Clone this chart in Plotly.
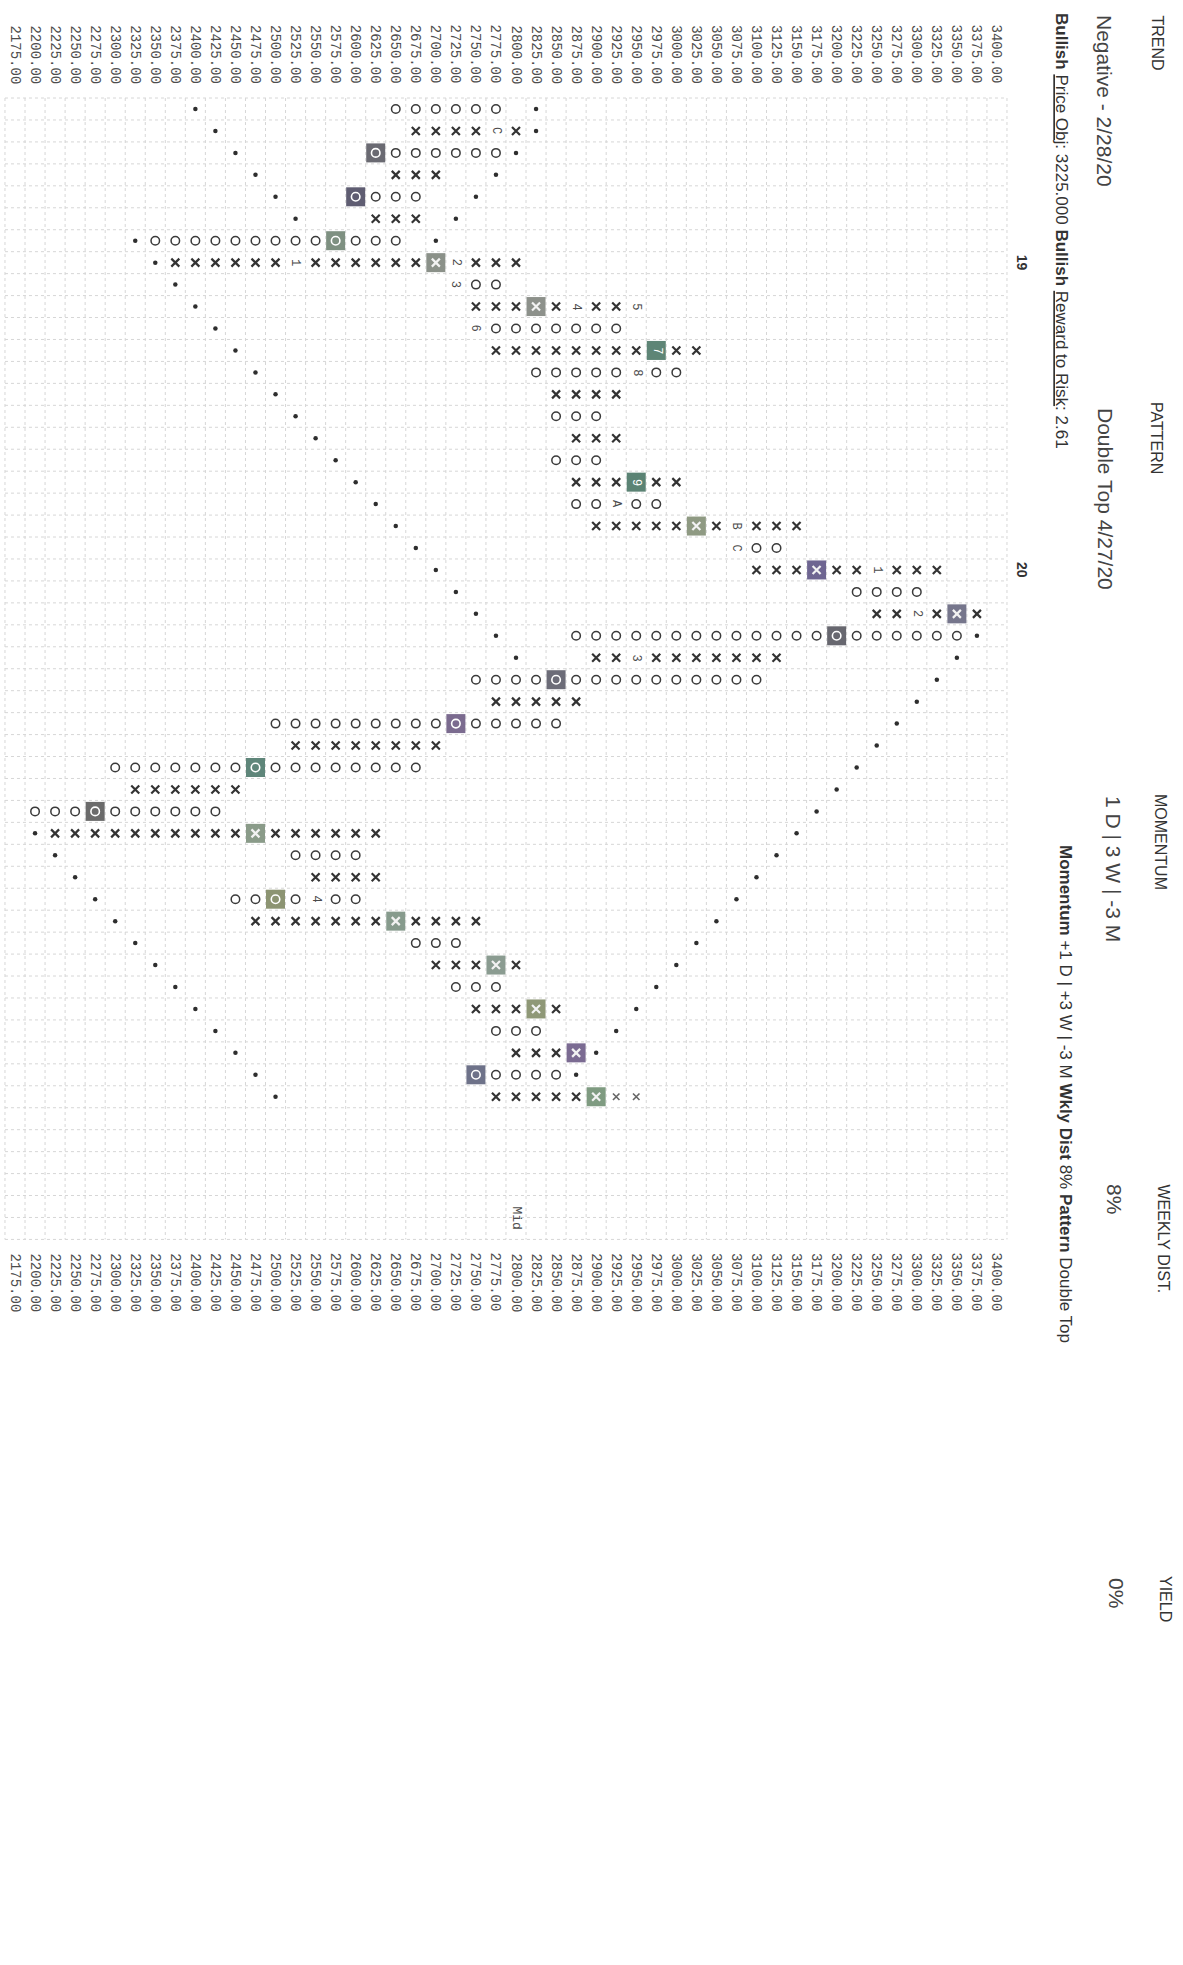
import plotly.graph_objects as go

# ---------------- data ----------------
price_levels = [2175, 2200, 2225, 2250, 2275, 2300, 2325, 2350, 2375, 2400,
                2425, 2450, 2475, 2500, 2525, 2550, 2575, 2600, 2625, 2650,
                2675, 2700, 2725, 2750, 2775, 2800, 2825, 2850, 2875, 2900,
                2925, 2950, 2975, 3000, 3025, 3050, 3075, 3100, 3125, 3150,
                3175, 3200, 3225, 3250, 3275, 3300, 3325, 3350, 3375, 3400]

# point & figure columns (one per row of the rotated page)
col_type = ['O', 'X', 'O', 'X', 'O', 'X', 'O', 'X', 'O', 'X',
            'O', 'X', 'O', 'X', 'O', 'X', 'O', 'X', 'O', 'X',
            'O', 'X', 'O', 'X', 'O', 'X', 'O', 'X', 'O', 'X',
            'O', 'X', 'O', 'X', 'O', 'X', 'O', 'X', 'O', 'X',
            'O', 'X', 'O', 'X', 'O', 'X']
col_low = [2650, 2675, 2625, 2650, 2600, 2625, 2350, 2375, 2725, 2750,
           2750, 2775, 2825, 2850, 2850, 2875, 2850, 2875, 2875, 2900,
           3075, 3100, 3225, 3250, 2875, 2900, 2750, 2775, 2500, 2525,
           2300, 2325, 2200, 2225, 2525, 2550, 2450, 2475, 2675, 2700,
           2725, 2750, 2775, 2800, 2750, 2775]
col_high = [2775, 2800, 2775, 2700, 2675, 2675, 2650, 2800, 2775, 2950,
            2925, 3025, 3000, 2925, 2900, 2925, 2900, 3000, 2975, 3150,
            3125, 3325, 3300, 3375, 3350, 3125, 3100, 2875, 2850, 2700,
            2675, 2450, 2425, 2625, 2600, 2625, 2600, 2750, 2725, 2800,
            2775, 2850, 2825, 2875, 2850, 2950]

# month markers
month_rows = [1, 7, 7, 8, 9, 9, 10, 11, 12, 17, 18, 19, 20, 21, 23, 25, 36]
month_prices = [2775, 2525, 2725, 2725, 2875, 2950, 2750, 2975, 2950, 2950,
                2925, 3075, 3075, 3250, 3300, 2950, 2550]
month_chars = ['C', '1', '2', '3', '4', '5', '6', '7', '8', '9',
               'A', 'B', 'C', '1', '2', '3', '4']
month_fill = [None, None, None, None, None, None, None, '#5e8576', None, '#5b8374',
              None, None, None, None, None, None, None]

# highlighted boxes
box_rows = [2, 4, 6, 7, 9, 19, 21, 23, 24, 26, 28, 30, 32, 33, 36, 37, 39, 41, 43, 44, 45]
box_prices = [2625, 2600, 2575, 2700, 2825, 3025, 3175, 3350, 3200, 2850, 2725,
              2475, 2275, 2475, 2500, 2650, 2775, 2825, 2875, 2750, 2900]
box_fill = ['#6a6a72', '#5f5d72', '#7e9081', '#8b9189', '#8d918b', '#8f9a83',
            '#6e6591', '#76768c', '#67676f', '#6c6c78', '#7b6b8f', '#5f867a',
            '#6b6b6b', '#8a9b89', '#8c9472', '#879b8d', '#8b9c91', '#8f9877',
            '#7b6b92', '#6e7289', '#7f9b81']

faint_rows = [45, 45]
faint_prices = [2925, 2950]

# trend-line dots
supA_rows = [0, 1, 2, 3, 4, 5]
supA_prices = [2400, 2425, 2450, 2475, 2500, 2525]
resA_rows = [0, 1, 2, 3, 4, 5, 6]
resA_prices = [2825, 2825, 2800, 2775, 2750, 2725, 2700]
supB_rows = [6, 7, 8, 9, 10, 11, 12, 13, 14, 15, 16, 17, 18, 19, 20, 21, 22, 23, 24, 25]
supB_prices = [2325, 2350, 2375, 2400, 2425, 2450, 2475, 2500, 2525, 2550,
               2575, 2600, 2625, 2650, 2675, 2700, 2725, 2750, 2775, 2800]
resB_rows = [24, 25, 26, 27, 28, 29, 30, 31, 32, 33, 34, 35, 36, 37, 38, 39, 40, 41, 42, 43, 44]
resB_prices = [3375, 3350, 3325, 3300, 3275, 3250, 3225, 3200, 3175, 3150,
               3125, 3100, 3075, 3050, 3025, 3000, 2975, 2950, 2925, 2900, 2875]
supC_rows = [33, 34, 35, 36, 37, 38, 39, 40, 41, 42, 43, 44, 45]
supC_prices = [2200, 2225, 2250, 2275, 2300, 2325, 2350, 2375, 2400, 2425, 2450, 2475, 2500]

year_rows = [7, 21]
year_text = ['19', '20']

# ---------------- geometry helpers ----------------
W, H = 1183, 1965
X0_PX, BOX_W = 15.0, 20.04
ROW0_PX, ROW_H = 109.0, 21.95
STEP = 25.0


def px_to_price(px):
    return price_levels[0] + (px - X0_PX) / BOX_W * STEP


def py_to_row(py):
    return (py - ROW0_PX) / ROW_H


fig = go.Figure()

# grid
gx, gy = [], []
top_r, bot_r = -0.5, 51.5
left_p, right_p = price_levels[0] - STEP / 2, price_levels[-1] + STEP / 2
for p in price_levels + [price_levels[-1] + STEP]:
    gx += [p - STEP / 2, p - STEP / 2, None]
    gy += [top_r, bot_r, None]
for i in range(53):
    r = i - 0.5
    gx += [left_p, right_p, None]
    gy += [r, r, None]
fig.add_trace(go.Scatter(x=gx, y=gy, mode='lines', hoverinfo='skip',
                         line=dict(color='#d6d6d6', width=1, dash='dot'),
                         showlegend=False))

# cells
special = set(zip(month_rows, month_prices)) | set(zip(box_rows, box_prices)) | \
    set(zip(faint_rows, faint_prices))
xs_x, xs_y, os_x, os_y = [], [], [], []
for r, (t, lo, hi) in enumerate(zip(col_type, col_low, col_high)):
    p = lo
    while p <= hi:
        if (r, p) not in special:
            if t == 'X':
                xs_x.append(p); xs_y.append(r)
            else:
                os_x.append(p); os_y.append(r)
        p += STEP

# dots
dx = supA_prices + resA_prices + supB_prices + resB_prices + supC_prices
dy = supA_rows + resA_rows + supB_rows + resB_rows + supC_rows
fig.add_trace(go.Scatter(x=dx, y=dy, mode='markers', hoverinfo='skip', showlegend=False,
                         marker=dict(symbol='circle', size=4.5, color='#2e2e2e')))

fig.add_trace(go.Scatter(x=xs_x, y=xs_y, mode='markers', hoverinfo='skip', showlegend=False,
                         marker=dict(symbol='x-thin', size=8, color='#333333',
                                     line=dict(color='#333333', width=2.2))))
fig.add_trace(go.Scatter(x=faint_prices, y=faint_rows, mode='markers', hoverinfo='skip',
                         showlegend=False,
                         marker=dict(symbol='x-thin', size=6.5, color='#666666',
                                     line=dict(color='#666666', width=1.6))))
fig.add_trace(go.Scatter(x=os_x, y=os_y, mode='markers', hoverinfo='skip', showlegend=False,
                         marker=dict(symbol='circle-open', size=8.5, color='#3a3a3a',
                                     line=dict(color='#3a3a3a', width=1.5))))

# highlighted boxes
fig.add_trace(go.Scatter(x=box_prices, y=box_rows, mode='markers', hoverinfo='skip',
                         showlegend=False,
                         marker=dict(symbol='square', size=19, color=box_fill,
                                     line=dict(width=0))))
bxx = [p for p, r in zip(box_prices, box_rows) if col_type[r] == 'X']
bxy = [r for r in box_rows if col_type[r] == 'X']
box_ox = [p for p, r in zip(box_prices, box_rows) if col_type[r] == 'O']
box_oy = [r for r in box_rows if col_type[r] == 'O']
fig.add_trace(go.Scatter(x=bxx, y=bxy, mode='markers', hoverinfo='skip', showlegend=False,
                         marker=dict(symbol='x-thin', size=8, color='white',
                                     line=dict(color='#f2f2f2', width=2.2))))
fig.add_trace(go.Scatter(x=box_ox, y=box_oy, mode='markers', hoverinfo='skip', showlegend=False,
                         marker=dict(symbol='circle-open', size=8.5, color='white',
                                     line=dict(color='#f2f2f2', width=1.6))))
mb_x = [p for p, f in zip(month_prices, month_fill) if f]
mb_y = [r for r, f in zip(month_rows, month_fill) if f]
mb_c = [f for f in month_fill if f]
fig.add_trace(go.Scatter(x=mb_x, y=mb_y, mode='markers', hoverinfo='skip', showlegend=False,
                         marker=dict(symbol='square', size=19, color=mb_c, line=dict(width=0))))

ann = []
for r, p, ch, f in zip(month_rows, month_prices, month_chars, month_fill):
    ann.append(dict(x=p, y=r, xref='x', yref='y', text=ch, showarrow=False, textangle=90,
                    font=dict(family='Liberation Mono', size=12,
                              color='white' if f else '#4a4a4a')))

# price labels (top and bottom)
for p in price_levels:
    for ytop in (23, 1251):
        ann.append(dict(x=p, y=py_to_row(ytop), xref='x', yref='y', text=f"{p:.2f}",
                        showarrow=False, textangle=90, xanchor='center', yanchor='top',
                        font=dict(family='Liberation Mono', size=14, color='#4d4d4d')))
ann.append(dict(x=2800, y=py_to_row(1204), xref='x', yref='y', text='Mid', showarrow=False,
                textangle=90, xanchor='center', yanchor='top',
                font=dict(family='Liberation Mono', size=13, color='#4d4d4d')))

# year labels
for r, t in zip(year_rows, year_text):
    ann.append(dict(x=px_to_price(1022), y=r, xref='x', yref='y', text=f"<b>{t}</b>",
                    showarrow=False, textangle=90,
                    font=dict(family='Liberation Sans', size=14, color='#333333')))
    ann.append(dict(x=px_to_price(-3), y=r, xref='x', yref='y', text=f"<b>{t}</b>",
                    showarrow=False, textangle=90,
                    font=dict(family='Liberation Sans', size=14, color='#333333')))

# header
def hdr(px, ptop, text, size, color='#333333'):
    ann.append(dict(x=px / W, y=1 - ptop / H, xref='paper', yref='paper', text=text,
                    showarrow=False, textangle=90, xanchor='center', yanchor='top',
                    font=dict(family='Liberation Sans', size=size, color=color)))

hdr(1157, 13, 'TREND', 16)
hdr(1157, 400, 'PATTERN', 16)
hdr(1161, 792, 'MOMENTUM', 16)
hdr(1163, 1182, 'WEEKLY DIST.', 16)
hdr(1166, 1574, 'YIELD', 16)
hdr(1105, 13, 'Negative - 2/28/20', 21, '#444444')
hdr(1105, 406, 'Double Top 4/27/20', 21, '#444444')
hdr(1113, 794, '1 D | 3 W | -3 M', 21, '#444444')
hdr(1115, 1182, '8%', 21, '#444444')
hdr(1117, 1576, '0%', 21, '#444444')
hdr(1062, 11, '<b>Bullish</b> <u>Price Obj</u>: 3225.000 <b>Bullish</b> <u>Reward to Risk</u>: 2.61',
    17, '#333333')
hdr(1066, 843, '<b>Momentum</b> +1 D | +3 W | -3 M <b>Wkly Dist</b> 8% <b>Pattern</b> Double Top',
    17, '#333333')

fig.update_layout(
    width=W, height=H, autosize=False,
    margin=dict(l=0, r=0, t=0, b=0, pad=0),
    paper_bgcolor='white', plot_bgcolor='white',
    showlegend=False,
    xaxis=dict(range=[px_to_price(0), px_to_price(W)], visible=False, fixedrange=True),
    yaxis=dict(range=[py_to_row(H), py_to_row(0)], visible=False, fixedrange=True),
    annotations=ann,
)

fig.write_html("out.html", config={'displayModeBar': False},
               post_script="document.body.style.margin='0';")
